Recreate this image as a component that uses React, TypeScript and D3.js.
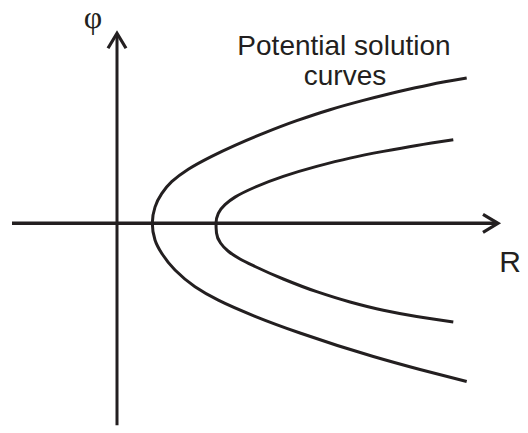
import React from "react";
import * as d3 from "d3";

// Data in axis units (R horizontal, φ vertical)
const curve1Upper: [number, number][] = [
  [3.53, 0], [3.8, 1.62], [4.47, 2.96], [5.47, 4.16], [7.13, 5.41], [9.47, 6.7],
  [11.8, 7.8], [14.63, 8.99], [17.97, 10.26], [21.3, 11.36], [24.63, 12.29],
  [27.97, 13.13], [31.3, 13.86], [34.97, 14.52],
];
const curve1Lower: [number, number][] = [
  [3.8, -1.67], [4.47, -3.0], [5.8, -4.67], [7.8, -6.34], [10.13, -7.69],
  [13.8, -9.3], [18.3, -10.97], [25.63, -13.32], [30.3, -14.62], [34.97, -15.82],
];
const curve2Upper: [number, number][] = [
  [9.9, 0], [10.13, 1.0], [10.8, 1.87], [11.8, 2.62], [13.73, 3.58], [16.63, 4.69],
  [19.97, 5.69], [23.3, 6.52], [26.63, 7.19], [29.97, 7.79], [33.63, 8.36],
];
const curve2Lower: [number, number][] = [
  [9.95, -0.97], [10.35, -1.97], [11.1, -2.77], [12.3, -3.57], [13.8, -4.32],
  [16.63, -5.57], [19.97, -6.84], [23.3, -7.87], [26.63, -8.7], [29.97, -9.33], [33.63, -9.88],
];
const xExtent = [-10.5, 38.1];
const yExtent = [-20.2, 19];
const axisLabels = { x: "R", y: "φ" };
const annotation = ["Potential solution", "curves"];

const W = 528, H = 433;
const x = d3.scaleLinear().domain([0, 1]).range([117, 127]);
const y = d3.scaleLinear().domain([0, 1]).range([223.3, 213.3]);

const ink = "#231f20";

function curvePath(upper: [number, number][], lower: [number, number][]) {
  const pts = [...upper.slice().reverse(), ...lower];
  const line = d3.line<[number, number]>()
    .x((d) => x(d[0]))
    .y((d) => y(d[1]))
    .curve(d3.curveMonotoneY);
  return line(pts) || "";
}

export default function App() {
  const x0 = x(xExtent[0]), x1 = x(xExtent[1]);
  const yTop = y(yExtent[1]), yBot = y(yExtent[0]);
  const ax = x(0), ay = y(0);
  return (
    <svg width={W} height={H} style={{ position: "absolute", left: 0, top: 0, background: "#fff" }}
      fontFamily="'Liberation Sans', Arial, sans-serif">
      <rect width={W} height={H} fill="#fff" />
      {/* horizontal axis */}
      <line x1={x0} y1={ay} x2={x1 - 1} y2={ay} stroke={ink} strokeWidth={3.6} />
      <path d={`M${x1 - 15},${ay - 9} L${x1},${ay} L${x1 - 15},${ay + 9}`} fill="none" stroke={ink} strokeWidth={3.2} />
      {/* vertical axis */}
      <line x1={ax} y1={yBot} x2={ax} y2={yTop + 1} stroke={ink} strokeWidth={3} />
      <path d={`M${ax - 9},${yTop + 15} L${ax},${yTop} L${ax + 9},${yTop + 15}`} fill="none" stroke={ink} strokeWidth={3.2} />
      {/* curves */}
      <path d={curvePath(curve1Upper, curve1Lower)} fill="none" stroke={ink} strokeWidth={3} />
      <path d={curvePath(curve2Upper, curve2Lower)} fill="none" stroke={ink} strokeWidth={3} />
      {/* labels */}
      <text x={x1 + 12} y={ay + 49} fontSize={30} textAnchor="middle" fill={ink}>{axisLabels.x}</text>
      <text x={93} y={28} fontSize={32} textAnchor="middle" fill={ink}
        fontFamily="'Liberation Serif', 'DejaVu Serif', serif">{axisLabels.y}</text>
      <text x={344} y={55} fontSize={28} textAnchor="middle" fill={ink}>{annotation[0]}</text>
      <text x={345} y={85} fontSize={28} textAnchor="middle" fill={ink}>{annotation[1]}</text>
    </svg>
  );
}
